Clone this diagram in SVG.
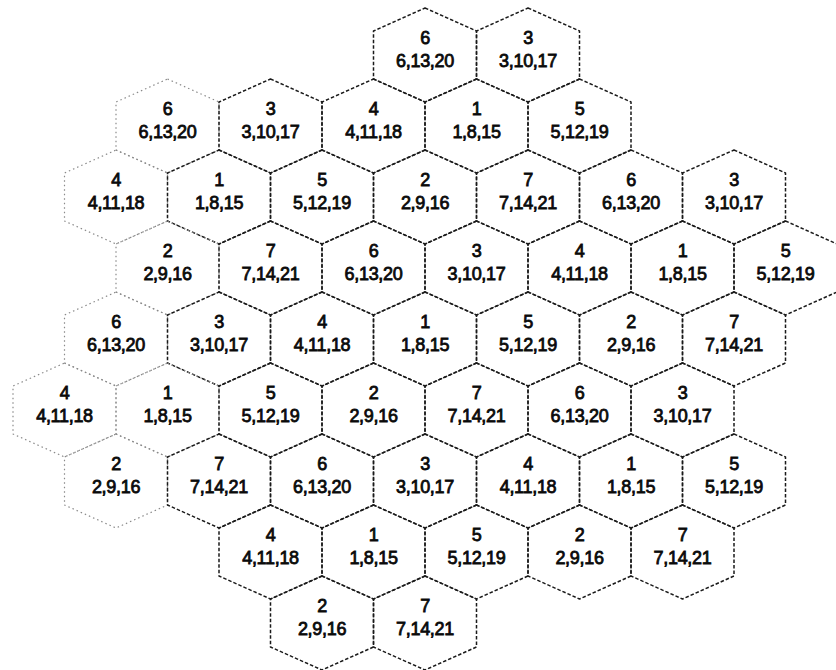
<svg xmlns="http://www.w3.org/2000/svg" xmlns:xlink="http://www.w3.org/1999/xlink" width="836" height="670" viewBox="0 0 836 670">
<style>
.edge{fill:none;stroke:#1a1a1a;stroke-width:1.5;stroke-dasharray:3.5 2;stroke-linejoin:round}
.faint .edge{stroke:#8a8a8a;stroke-width:1.2;stroke-dasharray:1.5 3}
text{font-family:"Liberation Sans",Arial,sans-serif;font-size:18px;fill:#0a0a0a;stroke:#0a0a0a;stroke-width:0.8;text-anchor:middle;letter-spacing:-0.3px}
</style>
<defs>
<polygon id="hx" points="0,-47 51.5,-24 51.5,24 0,47 -51.5,24 -51.5,-24"/>
</defs>
<rect width="836" height="670" fill="#ffffff"/>
<g id="connectors"></g>
<g id="cells">
<g id="cell-r0-1" transform="translate(425,55)"><use xlink:href="#hx" class="edge"/><text y="-11">6</text><text y="11.5">6,13,20</text></g>
<g id="cell-r0-2" transform="translate(528,55)"><use xlink:href="#hx" class="edge"/><text y="-11">3</text><text y="11.5">3,10,17</text></g>

<g id="cell-r1-1" class="faint" transform="translate(167.5,126)"><use xlink:href="#hx" class="edge"/><text y="-11">6</text><text y="11.5">6,13,20</text></g>
<g id="cell-r1-2" transform="translate(270.5,126)"><use xlink:href="#hx" class="edge"/><text y="-11">3</text><text y="11.5">3,10,17</text></g>
<g id="cell-r1-3" transform="translate(373.5,126)"><use xlink:href="#hx" class="edge"/><text y="-11">4</text><text y="11.5">4,11,18</text></g>
<g id="cell-r1-4" transform="translate(476.5,126)"><use xlink:href="#hx" class="edge"/><text y="-11">1</text><text y="11.5">1,8,15</text></g>
<g id="cell-r1-5" transform="translate(579.5,126)"><use xlink:href="#hx" class="edge"/><text y="-11">5</text><text y="11.5">5,12,19</text></g>

<g id="cell-r2-1" class="faint" transform="translate(116,197)"><use xlink:href="#hx" class="edge"/><text y="-11">4</text><text y="11.5">4,11,18</text></g>
<g id="cell-r2-2" transform="translate(219,197)"><use xlink:href="#hx" class="edge"/><text y="-11">1</text><text y="11.5">1,8,15</text></g>
<g id="cell-r2-3" transform="translate(322,197)"><use xlink:href="#hx" class="edge"/><text y="-11">5</text><text y="11.5">5,12,19</text></g>
<g id="cell-r2-4" transform="translate(425,197)"><use xlink:href="#hx" class="edge"/><text y="-11">2</text><text y="11.5">2,9,16</text></g>
<g id="cell-r2-5" transform="translate(528,197)"><use xlink:href="#hx" class="edge"/><text y="-11">7</text><text y="11.5">7,14,21</text></g>
<g id="cell-r2-6" transform="translate(631,197)"><use xlink:href="#hx" class="edge"/><text y="-11">6</text><text y="11.5">6,13,20</text></g>
<g id="cell-r2-7" transform="translate(734,197)"><use xlink:href="#hx" class="edge"/><text y="-11">3</text><text y="11.5">3,10,17</text></g>

<g id="cell-r3-1" class="faint" transform="translate(167.5,268)"><use xlink:href="#hx" class="edge"/><text y="-11">2</text><text y="11.5">2,9,16</text></g>
<g id="cell-r3-2" transform="translate(270.5,268)"><use xlink:href="#hx" class="edge"/><text y="-11">7</text><text y="11.5">7,14,21</text></g>
<g id="cell-r3-3" transform="translate(373.5,268)"><use xlink:href="#hx" class="edge"/><text y="-11">6</text><text y="11.5">6,13,20</text></g>
<g id="cell-r3-4" transform="translate(476.5,268)"><use xlink:href="#hx" class="edge"/><text y="-11">3</text><text y="11.5">3,10,17</text></g>
<g id="cell-r3-5" transform="translate(579.5,268)"><use xlink:href="#hx" class="edge"/><text y="-11">4</text><text y="11.5">4,11,18</text></g>
<g id="cell-r3-6" transform="translate(682.5,268)"><use xlink:href="#hx" class="edge"/><text y="-11">1</text><text y="11.5">1,8,15</text></g>
<g id="cell-r3-7" transform="translate(785.5,268)"><use xlink:href="#hx" class="edge"/><text y="-11">5</text><text y="11.5">5,12,19</text></g>

<g id="cell-r4-1" class="faint" transform="translate(116,339)"><use xlink:href="#hx" class="edge"/><text y="-11">6</text><text y="11.5">6,13,20</text></g>
<g id="cell-r4-2" transform="translate(219,339)"><use xlink:href="#hx" class="edge"/><text y="-11">3</text><text y="11.5">3,10,17</text></g>
<g id="cell-r4-3" transform="translate(322,339)"><use xlink:href="#hx" class="edge"/><text y="-11">4</text><text y="11.5">4,11,18</text></g>
<g id="cell-r4-4" transform="translate(425,339)"><use xlink:href="#hx" class="edge"/><text y="-11">1</text><text y="11.5">1,8,15</text></g>
<g id="cell-r4-5" transform="translate(528,339)"><use xlink:href="#hx" class="edge"/><text y="-11">5</text><text y="11.5">5,12,19</text></g>
<g id="cell-r4-6" transform="translate(631,339)"><use xlink:href="#hx" class="edge"/><text y="-11">2</text><text y="11.5">2,9,16</text></g>
<g id="cell-r4-7" transform="translate(734,339)"><use xlink:href="#hx" class="edge"/><text y="-11">7</text><text y="11.5">7,14,21</text></g>

<g id="cell-r5-1" class="faint" transform="translate(64.5,410)"><use xlink:href="#hx" class="edge"/><text y="-11">4</text><text y="11.5">4,11,18</text></g>
<g id="cell-r5-2" class="faint" transform="translate(167.5,410)"><use xlink:href="#hx" class="edge"/><text y="-11">1</text><text y="11.5">1,8,15</text></g>
<g id="cell-r5-3" transform="translate(270.5,410)"><use xlink:href="#hx" class="edge"/><text y="-11">5</text><text y="11.5">5,12,19</text></g>
<g id="cell-r5-4" transform="translate(373.5,410)"><use xlink:href="#hx" class="edge"/><text y="-11">2</text><text y="11.5">2,9,16</text></g>
<g id="cell-r5-5" transform="translate(476.5,410)"><use xlink:href="#hx" class="edge"/><text y="-11">7</text><text y="11.5">7,14,21</text></g>
<g id="cell-r5-6" transform="translate(579.5,410)"><use xlink:href="#hx" class="edge"/><text y="-11">6</text><text y="11.5">6,13,20</text></g>
<g id="cell-r5-7" transform="translate(682.5,410)"><use xlink:href="#hx" class="edge"/><text y="-11">3</text><text y="11.5">3,10,17</text></g>

<g id="cell-r6-1" class="faint" transform="translate(116,481)"><use xlink:href="#hx" class="edge"/><text y="-11">2</text><text y="11.5">2,9,16</text></g>
<g id="cell-r6-2" transform="translate(219,481)"><use xlink:href="#hx" class="edge"/><text y="-11">7</text><text y="11.5">7,14,21</text></g>
<g id="cell-r6-3" transform="translate(322,481)"><use xlink:href="#hx" class="edge"/><text y="-11">6</text><text y="11.5">6,13,20</text></g>
<g id="cell-r6-4" transform="translate(425,481)"><use xlink:href="#hx" class="edge"/><text y="-11">3</text><text y="11.5">3,10,17</text></g>
<g id="cell-r6-5" transform="translate(528,481)"><use xlink:href="#hx" class="edge"/><text y="-11">4</text><text y="11.5">4,11,18</text></g>
<g id="cell-r6-6" transform="translate(631,481)"><use xlink:href="#hx" class="edge"/><text y="-11">1</text><text y="11.5">1,8,15</text></g>
<g id="cell-r6-7" transform="translate(734,481)"><use xlink:href="#hx" class="edge"/><text y="-11">5</text><text y="11.5">5,12,19</text></g>

<g id="cell-r7-1" transform="translate(270.5,552)"><use xlink:href="#hx" class="edge"/><text y="-11">4</text><text y="11.5">4,11,18</text></g>
<g id="cell-r7-2" transform="translate(373.5,552)"><use xlink:href="#hx" class="edge"/><text y="-11">1</text><text y="11.5">1,8,15</text></g>
<g id="cell-r7-3" transform="translate(476.5,552)"><use xlink:href="#hx" class="edge"/><text y="-11">5</text><text y="11.5">5,12,19</text></g>
<g id="cell-r7-4" transform="translate(579.5,552)"><use xlink:href="#hx" class="edge"/><text y="-11">2</text><text y="11.5">2,9,16</text></g>
<g id="cell-r7-5" transform="translate(682.5,552)"><use xlink:href="#hx" class="edge"/><text y="-11">7</text><text y="11.5">7,14,21</text></g>

<g id="cell-r8-1" transform="translate(322,623)"><use xlink:href="#hx" class="edge"/><text y="-11">2</text><text y="11.5">2,9,16</text></g>
<g id="cell-r8-2" transform="translate(425,623)"><use xlink:href="#hx" class="edge"/><text y="-11">7</text><text y="11.5">7,14,21</text></g>
</g>
</svg>
